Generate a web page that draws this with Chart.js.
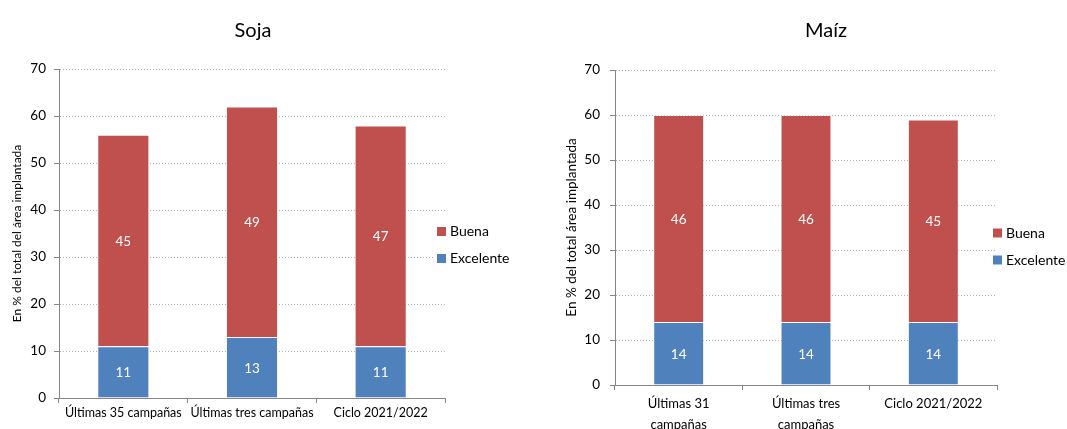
<!DOCTYPE html>
<html>
<head>
<meta charset="utf-8">
<script src="https://cdn.jsdelivr.net/npm/chart.js@4.4.0/dist/chart.umd.min.js"></script>
<style>
  html, body { margin: 0; padding: 0; background: #fff; }
  #wrap { position: relative; width: 1067px; height: 429px; overflow: hidden; }
  .box { position: absolute; top: 0; height: 429px; }
  #b1 { left: 0; width: 540px; }
  #b2 { left: 540px; width: 527px; }
</style>
</head>
<body>
<div id="wrap">
  <div class="box" id="b1"><canvas id="c1"></canvas></div>
  <div class="box" id="b2"><canvas id="c2"></canvas></div>
</div>
<script>
// Estado de los cultivos: porcentaje del área implantada en condición buena / excelente
const sojaCategories = ['Últimas 35 campañas', 'Últimas tres campañas', 'Ciclo 2021/2022'];
const sojaExcelente = [11, 13, 11];
const sojaBuena = [45, 49, 47];

const maizCategories = [['Últimas 31', 'campañas'], ['Últimas tres', 'campañas'], 'Ciclo 2021/2022'];
const maizExcelente = [14, 14, 14];
const maizBuena = [46, 46, 45];

const yMin = 0;
const yMax = 70;
const yStep = 10;

const BLUE = '#4F81BD';
const RED = '#C0504D';
const AXIS = '#868686';
const GRID = '#B0B0B0';
const FONT = 'Lato, "Open Sans", sans-serif';

// white value labels centred on every stacked segment
const valueLabels = {
  id: 'valueLabels',
  afterDatasetsDraw(chart) {
    const ctx = chart.ctx;
    ctx.save();
    ctx.fillStyle = '#fff';
    ctx.font = '13.5px ' + FONT;
    ctx.textAlign = 'center';
    ctx.textBaseline = 'middle';
    chart.data.datasets.forEach((ds, i) => {
      const meta = chart.getDatasetMeta(i);
      meta.data.forEach((bar, j) => {
        const v = ds.data[j];
        ctx.fillText(String(v), bar.x, (bar.y + bar.base) / 2 + 1);
      });
    });
    ctx.restore();
  }
};

// chart heading
const headTitle = {
  id: 'headTitle',
  afterDraw(chart, args, opts) {
    const ctx = chart.ctx;
    ctx.save();
    ctx.fillStyle = '#000';
    ctx.font = '20px ' + FONT;
    ctx.textAlign = 'center';
    ctx.textBaseline = 'middle';
    ctx.fillText(opts.text, opts.x, opts.y);
    ctx.restore();
  }
};

// legend drawn beside the plot, series listed top-down from the top of the stack
const sideLegend = {
  id: 'sideLegend',
  afterDraw(chart, args, opts) {
    const ctx = chart.ctx;
    ctx.save();
    ctx.font = '14px ' + FONT;
    ctx.textBaseline = 'middle';
    ctx.textAlign = 'left';
    const items = chart.data.datasets.slice().reverse();
    items.forEach((ds, k) => {
      const cy = opts.y + k * opts.gap;
      ctx.fillStyle = '#fff';
      ctx.fillRect(opts.x - 3, cy - 9, 80, 18);
      ctx.fillStyle = ds.backgroundColor;
      ctx.fillRect(opts.x, cy - 4.5, 9, 9);
      ctx.fillStyle = '#000';
      ctx.fillText(ds.label, opts.x + 13, cy);
    });
    ctx.restore();
  }
};

function makeChart(canvasId, cfg) {
  return new Chart(document.getElementById(canvasId), {
    type: 'bar',
    data: {
      labels: cfg.categories,
      datasets: [
        { label: 'Excelente', data: cfg.excelente, backgroundColor: BLUE,
          borderColor: 'rgba(255,255,255,0.35)', borderWidth: 1, borderSkipped: 'bottom' },
        { label: 'Buena', data: cfg.buena, backgroundColor: RED,
          borderColor: 'rgba(255,255,255,0.35)', borderWidth: 1, borderSkipped: 'bottom' }
      ]
    },
    options: {
      responsive: true,
      maintainAspectRatio: false,
      animation: false,
      events: [],
      layout: { padding: { left: 0, top: cfg.top, right: cfg.right, bottom: 0 } },
      datasets: { bar: { categoryPercentage: 1, barPercentage: cfg.barPct } },
      plugins: {
        legend: { display: false },
        title: { display: false },
        tooltip: { enabled: false },
        headTitle: cfg.title,
        sideLegend: cfg.legend
      },
      scales: {
        x: {
          stacked: true,
          grid: { display: true, offset: true, drawOnChartArea: false, drawTicks: true,
                  tickLength: 5, tickColor: AXIS, tickWidth: 1 },
          border: { display: true, color: AXIS, width: 1 },
          ticks: { color: '#000', font: { family: FONT, size: cfg.xSize, lineHeight: cfg.xLine },
                   padding: cfg.xPad, maxRotation: 0, autoSkip: false },
          afterFit(scale) { scale.height = cfg.xHeight; }
        },
        y: {
          stacked: true,
          min: yMin,
          max: yMax,
          ticks: { stepSize: yStep, color: '#000', font: { family: FONT, size: 13.5 }, padding: cfg.yPad },
          grid: { color: GRID, lineWidth: 1, drawTicks: true, tickLength: 5, tickColor: AXIS,
                  tickBorderDash: [] },
          border: { display: true, color: AXIS, width: 1, dash: [1, 2] },
          title: { display: true, text: cfg.yTitle, color: '#000',
                   font: { family: FONT, size: cfg.yTitleSize }, padding: { top: cfg.yTitlePad, bottom: 0 } },
          afterFit(scale) { scale.width = cfg.yWidth; }
        }
      }
    },
    plugins: [valueLabels, headTitle, sideLegend]
  });
}

makeChart('c1', {
  categories: sojaCategories,
  excelente: sojaExcelente,
  buena: sojaBuena,
  top: 69,
  right: 95,
  yWidth: 59,
  xHeight: 31,
  xSize: 12.5,
  xPad: 2,
  xLine: 1.2,
  yPad: 8,
  yTitlePad: 10,
  yTitleSize: 12,
  barPct: 0.405,
  yTitle: 'En % del total del área implantada',
  title: { text: 'Soja', x: 253, y: 31 },
  legend: { x: 437, y: 231.5, gap: 27 }
});

makeChart('c2', {
  categories: maizCategories,
  excelente: maizExcelente,
  buena: maizBuena,
  top: 70,
  right: 70,
  yWidth: 75,
  xHeight: 44,
  xSize: 13,
  xPad: 3,
  xLine: 1.62,
  yPad: 10,
  yTitlePad: 24,
  yTitleSize: 13.5,
  barPct: 0.40,
  yTitle: 'En % del total área implantada',
  title: { text: 'Maíz', x: 286, y: 31 },
  legend: { x: 453, y: 233, gap: 27 }
});
</script>
</body>
</html>
